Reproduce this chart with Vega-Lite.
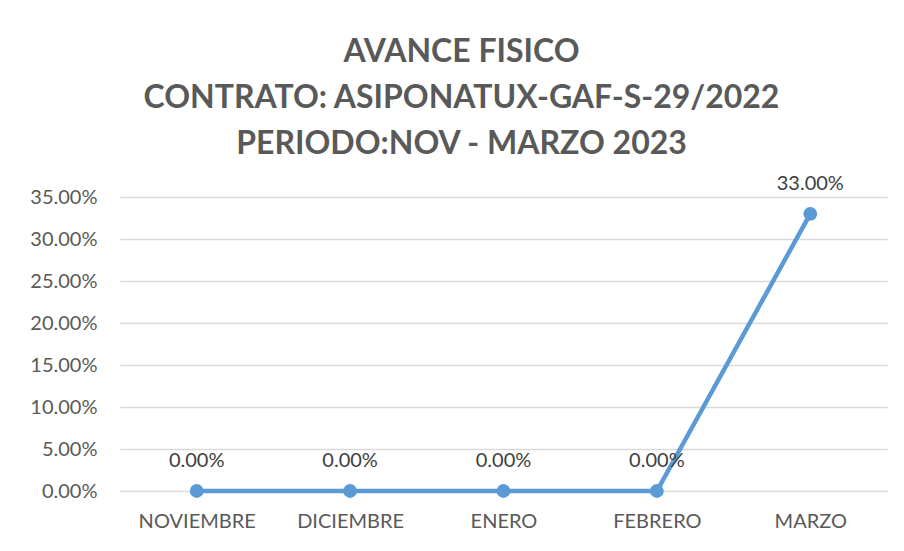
{
  "$schema": "https://vega.github.io/schema/vega-lite/v6.json",
  "width": 767,
  "height": 294,
  "autosize": {"type": "none"},
  "padding": {"left": 120, "top": 197, "right": 17, "bottom": 60},
  "background": "white",
  "config": {"view": {"stroke": null}, "font": "Lato"},
  "title": {
    "text": ["AVANCE FISICO", "CONTRATO: ASIPONATUX-GAF-S-29/2022", "PERIODO:NOV - MARZO 2023"],
    "font": "Lato",
    "fontSize": 32,
    "fontWeight": "bold",
    "color": "#595959",
    "lineHeight": 46,
    "anchor": "middle",
    "baseline": "alphabetic",
    "offset": -12,
    "dx": -42
  },
  "data": {
    "values": [
      {"mes": "NOVIEMBRE", "avance": 0},
      {"mes": "DICIEMBRE", "avance": 0},
      {"mes": "ENERO", "avance": 0},
      {"mes": "FEBRERO", "avance": 0},
      {"mes": "MARZO", "avance": 0.33}
    ]
  },
  "encoding": {
    "x": {
      "field": "mes",
      "type": "nominal",
      "sort": null,
      "scale": {"type": "point", "padding": 0.5},
      "axis": {
        "title": null,
        "labelAngle": 0,
        "domain": false,
        "ticks": false,
        "grid": false,
        "labelFont": "Lato",
        "labelFontSize": 20,
        "labelColor": "#595959",
        "labelPadding": 20
      }
    },
    "y": {
      "field": "avance",
      "type": "quantitative",
      "scale": {"domain": [0, 0.35], "nice": false},
      "axis": {
        "title": null,
        "format": ".2%",
        "values": [0, 0.05, 0.1, 0.15, 0.2, 0.25, 0.3, 0.35],
        "domain": false,
        "ticks": false,
        "gridColor": "#d9d9d9",
        "gridWidth": 1.5,
        "labelFont": "Lato",
        "labelFontSize": 20,
        "labelColor": "#595959",
        "labelPadding": 23
      }
    }
  },
  "layer": [
    {"mark": {"type": "line", "color": "#5b9bd5", "strokeWidth": 4.5}},
    {"mark": {"type": "point", "filled": true, "opacity": 1, "color": "#5b9bd5", "size": 190}},
    {
      "mark": {"type": "text", "dy": -30, "font": "Lato", "fontSize": 20, "color": "#404040"},
      "encoding": {"text": {"field": "avance", "type": "quantitative", "format": ".2%"}}
    }
  ]
}
